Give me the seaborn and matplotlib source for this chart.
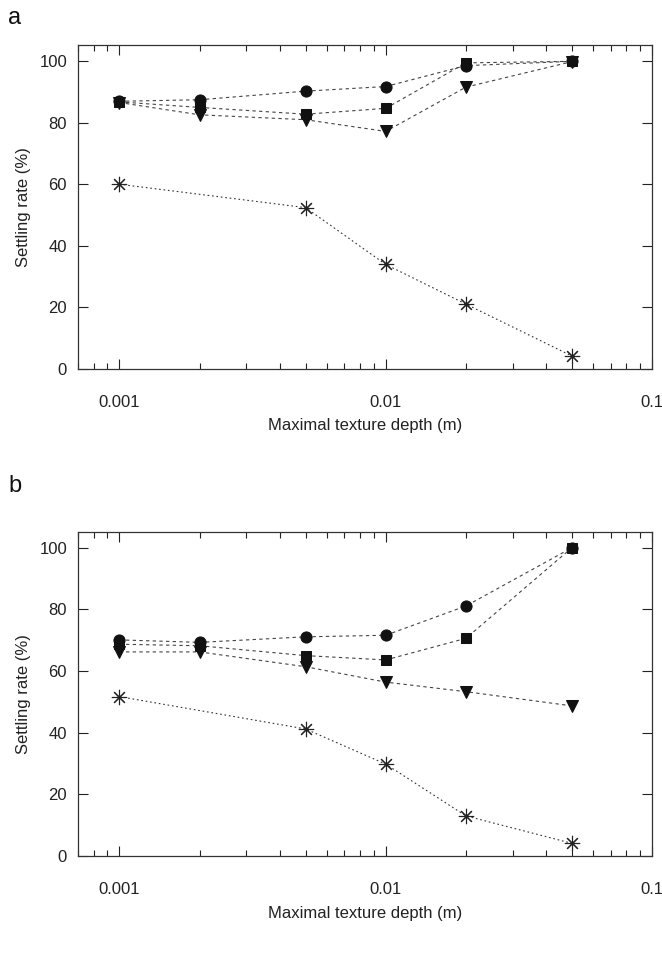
import numpy as np
import pandas as pd
import seaborn as sns
import matplotlib
matplotlib.use("Agg")
import matplotlib.pyplot as plt
from matplotlib.ticker import FixedLocator, LogLocator, NullFormatter

# data
depth = [0.001, 0.002, 0.005, 0.01, 0.02, 0.05]
depth_star = [0.001, 0.005, 0.01, 0.02, 0.05]

a_circle = [87.0, 87.5, 90.3, 91.8, 98.6, 100.0]
a_square = [86.8, 85.0, 82.8, 84.7, 99.5, 100.0]
a_triangle = [86.6, 82.6, 81.0, 77.2, 91.6, 99.9]
a_star = [60.0, 52.4, 33.9, 21.0, 4.1]

b_circle = [70.1, 69.3, 71.1, 71.6, 81.1, 100.0]
b_square = [68.7, 68.2, 65.0, 63.6, 70.6, 100.0]
b_triangle = [66.2, 66.2, 61.4, 56.4, 53.3, 48.7]
b_star = [51.7, 41.2, 29.8, 13.0, 4.1]

panels = {
    "a": [(depth, a_circle, "o"), (depth, a_square, "s"), (depth, a_triangle, "v"), (depth_star, a_star, "star")],
    "b": [(depth, b_circle, "o"), (depth, b_square, "s"), (depth, b_triangle, "v"), (depth_star, b_star, "star")],
}

sns.set_style("ticks")
plt.rcParams["font.family"] = ["Liberation Sans", "DejaVu Sans"]

fig = plt.figure(figsize=(6.62, 9.65), dpi=100)
positions = {"a": [0.118, 0.618, 0.867, 0.335], "b": [0.118, 0.113, 0.867, 0.336]}
label_y = {"a": 0.993, "b": 0.508}

for name, series in panels.items():
    ax = fig.add_axes(positions[name])
    for xs, ys, mk in series:
        if mk == "star":
            sns.lineplot(x=xs, y=ys, ax=ax, color="#333333", linewidth=0.8,
                         linestyle=(0, (1.5, 2.5)), marker=(8, 2, 0), markersize=11,
                         markeredgewidth=0.8, markeredgecolor="#222222")
        else:
            ms = {"o": 8, "s": 7, "v": 8}[mk]
            sns.lineplot(x=xs, y=ys, ax=ax, color="#444444", linewidth=0.8,
                         linestyle=(0, (3, 3)), marker=mk, markersize=ms,
                         markerfacecolor="#111111", markeredgecolor="#111111")
    ax.set_xscale("log")
    ax.set_xlim(0.0007, 0.1)
    ax.set_ylim(0, 105.2)
    ax.xaxis.set_major_locator(FixedLocator([0.001, 0.01, 0.1]))
    ax.set_xticklabels(["0.001", "0.01", "0.1"])
    ax.xaxis.set_minor_locator(LogLocator(base=10, subs=np.arange(2, 10)))
    ax.xaxis.set_minor_formatter(NullFormatter())
    ax.set_yticks([0, 20, 40, 60, 80, 100])
    ax.tick_params(which="both", direction="in", top=True, right=True,
                   labelsize=12, colors="#222222", pad=8)
    ax.tick_params(axis="x", which="major", pad=19)
    ax.tick_params(which="major", length=7, width=0.8)
    ax.tick_params(which="minor", length=4, width=0.8)
    for sp in ax.spines.values():
        sp.set_linewidth(0.9)
        sp.set_color("#333333")
    ax.set_xlabel("Maximal texture depth (m)", fontsize=12, color="#222222", labelpad=6)
    ax.set_ylabel("Settling rate (%)", fontsize=12, color="#222222", labelpad=6)
    fig.text(0.012, label_y[name], name, fontsize=17, color="#111111", va="top")

fig.savefig("out.png", dpi=100)
